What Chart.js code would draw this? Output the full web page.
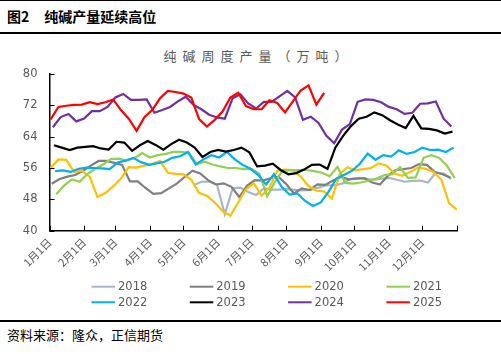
<!doctype html>
<html lang="zh">
<head>
<meta charset="utf-8">
<title>纯碱产量延续高位</title>
<script src="https://cdn.jsdelivr.net/npm/chart.js/dist/chart.umd.min.js"></script>
<style>
  * { margin: 0; padding: 0; }
  body { width: 501px; height: 354px; background: #fff; position: relative; overflow: hidden;
         font-family: "Noto Sans CJK SC", sans-serif; color: #000; }
  .rule { position: absolute; left: 0; width: 501px; background: #000; }
  .head { position: absolute; left: 7px; top: 6px; font-size: 14px; font-weight: bold; line-height: 20px; white-space: nowrap; }
  .head span { margin-right: 15px; }
  .ctitle { position: absolute; left: 0; width: 517px; top: 47px; text-align: center; font-size: 13px;
            letter-spacing: 6px; color: #595959; line-height: 18px; white-space: nowrap; }
  .src { position: absolute; left: 7px; top: 325px; font-size: 13px; line-height: 20px; white-space: nowrap; }
  .box { position: absolute; left: 0; top: 36px; width: 501px; height: 284px; }
</style>
</head>
<body>
<div class="rule" style="top:0;height:1px"></div>
<div class="head"><span>图2</span>纯碱产量延续高位</div>
<div class="rule" style="top:32px;height:2px"></div>
<div class="ctitle">纯碱周度产量（万吨）</div>
<div class="box"><canvas id="sodaChart" width="501" height="284"></canvas></div>
<div class="rule" style="top:320px;height:2px"></div>
<div class="src">资料来源：隆众，正信期货</div>

<script>
// 月份刻度
var monthDays = [0, 31, 59, 90, 120, 151, 181, 212, 243, 273, 304, 334, 365];
var monthLabels = ['1月1日', '2月1日', '3月1日', '4月1日', '5月1日', '6月1日',
                   '7月1日', '8月1日', '9月1日', '10月1日', '11月1日', '12月1日', ''];

// 各年份周度产量（万吨），firstDates 为每年第一条数据日期
var years = ['2018', '2019', '2020', '2021', '2022', '2023', '2024', '2025'];
var firstDates = ['2018-05-10', '2019-01-03', '2020-01-02', '2021-01-07',
                  '2022-01-06', '2023-01-05', '2024-01-04', '2025-01-02'];
var colors = ['#a9b5c7', '#7f7f7f', '#ffc000', '#92d050', '#00b0f0', '#000000', '#7030a0', '#ff0000'];

var v2018 = [51.6, 52.5, 52.5, 51.8, 44.2, 50.8, 51.0, 49.9, 49.1, 50.8, 50.5, 50.5, 50.6, 50.4,
             50.3, 50.4, 51.0, 51.6, 51.6, 52.0, 53.1, 53.5, 53.3, 53.0, 53.3, 53.5, 53.0, 52.5,
             52.7, 52.8, 52.3, 54.8, 54.6, 53.2];
var v2019 = [52.0, 53.2, 53.8, 54.2, 55.3, 56.6, 57.8, 57.8, 57.3, 56.8, 52.6, 52.6, 50.9, 49.4,
             49.6, 50.8, 52.0, 53.7, 55.3, 54.6, 52.9, 51.8, 52.1, 51.2, 48.6, 51.5, 52.9, 52.8,
             53.4, 53.8, 51.9, 49.5, 50.8, 50.4, 51.8, 51.7, 52.8, 53.7, 53.1, 53.3, 53.4, 52.3,
             51.8, 54.0, 55.5, 55.7, 56.0, 57.0, 56.8, 55.0, 54.4, 53.6];
var v2020 = [56.0, 58.2, 58.1, 55.0, 55.3, 53.8, 48.6, 49.6, 51.3, 53.3, 56.2, 56.1, 56.6, 57.0,
             57.8, 54.8, 54.5, 54.4, 53.0, 49.6, 48.9, 47.2, 45.0, 43.8, 47.2, 50.6, 52.1, 48.9,
             51.0, 55.3, 55.6, 55.5, 53.8, 51.4, 50.2, 50.0, 48.2, 54.5, 56.2, 55.4, 55.7, 56.0,
             57.2, 56.6, 54.6, 54.0, 55.0, 56.1, 55.8, 55.0, 53.0, 47.0, 45.4];
var v2021 = [49.3, 51.5, 53.1, 52.5, 54.5, 55.8, 56.9, 58.3, 58.4, 57.9, 58.5, 59.8, 58.7, 59.3,
             59.6, 60.1, 60.1, 59.9, 57.0, 57.6, 56.9, 56.4, 56.0, 56.0, 55.7, 55.8, 54.5, 48.8,
             52.5, 55.4, 55.4, 55.5, 55.5, 55.2, 54.8, 53.9, 56.3, 52.2, 52.0, 52.3, 52.8, 53.3,
             54.2, 54.4, 56.2, 53.5, 53.6, 58.6, 59.3, 58.6, 56.6, 53.4];
var v2022 = [55.2, 55.4, 55.0, 55.8, 56.1, 56.0, 55.9, 55.7, 57.4, 57.9, 58.6, 57.5, 56.8, 57.2,
             57.6, 58.6, 59.0, 60.1, 56.9, 58.2, 59.3, 58.7, 60.1, 58.2, 56.8, 55.8, 54.2, 51.8,
             54.4, 51.2, 49.2, 49.5, 47.6, 46.3, 47.2, 50.0, 53.3, 54.3, 55.3, 57.1, 59.7, 58.1,
             59.3, 58.9, 60.5, 59.6, 60.1, 61.2, 60.6, 60.7, 60.1, 61.2];
var v2023 = [61.8, 61.2, 60.6, 61.2, 61.4, 61.6, 61.0, 60.7, 62.7, 62.5, 60.4, 61.8, 62.9, 61.9,
             60.7, 62.1, 63.2, 62.5, 61.2, 58.8, 60.1, 60.6, 60.2, 60.6, 61.2, 60.0, 56.4, 56.6,
             57.1, 55.5, 54.4, 54.7, 55.6, 56.8, 56.9, 55.8, 61.2, 64.2, 66.7, 68.6, 69.1, 70.2,
             69.5, 68.2, 67.1, 66.2, 69.3, 66.1, 66.0, 65.6, 64.8, 65.3];
var v2024 = [66.4, 69.0, 69.8, 67.9, 68.6, 70.5, 70.5, 71.6, 74.0, 74.9, 73.4, 73.4, 73.5, 70.1,
             70.8, 71.6, 73.0, 74.2, 72.1, 71.0, 69.6, 68.9, 68.6, 73.8, 74.8, 72.5, 71.2, 72.9,
             72.9, 74.3, 75.7, 74.0, 68.3, 69.1, 67.5, 64.2, 62.3, 65.8, 67.2, 72.9, 73.5, 73.4,
             72.8, 71.6, 71.0, 69.8, 70.1, 72.4, 72.5, 73.0, 68.6, 66.6];
var v2025 = [68.4, 71.6, 71.9, 72.1, 72.2, 72.8, 72.3, 72.8, 73.5, 70.8, 68.6, 65.5, 69.0, 70.8,
             73.8, 75.7, 75.4, 75.0, 74.0, 68.5, 66.6, 68.3, 70.4, 74.0, 75.2, 71.8, 71.0, 71.0,
             73.3, 72.6, 70.2, 73.0, 75.8, 77.1, 72.2, 75.2];
var values = [v2018, v2019, v2020, v2021, v2022, v2023, v2024, v2025];

function dayOfYear(s) {
    var d = new Date(s + 'T00:00:00Z');
    return (d - Date.UTC(d.getUTCFullYear(), 0, 1)) / 864e5;
}

var datasets = years.map(function (yr, i) {
    var start = dayOfYear(firstDates[i]);
    return {
        label: yr,
        data: values[i].map(function (v, k) { return { x: start + 7 * k, y: v }; }),
        borderColor: colors[i],
        backgroundColor: colors[i],
        borderWidth: 2.2,
        pointRadius: 0,
        tension: 0,
        order: years.length - i
    };
});

// 内向刻度线 + 两行图例
var extras = {
    id: 'extras',
    afterDraw: function (chart) {
        var ctx = chart.ctx, a = chart.chartArea, x = chart.scales.x, y = chart.scales.y;
        ctx.save();
        ctx.strokeStyle = '#000';
        ctx.lineWidth = 1;
        ctx.beginPath();
        y.ticks.forEach(function (t) {
            var py = Math.round(y.getPixelForValue(t.value)) + 0.5;
            ctx.moveTo(a.left, py); ctx.lineTo(a.left + 5, py);
        });
        x.ticks.forEach(function (t) {
            var px = Math.round(x.getPixelForValue(t.value)) + 0.5;
            ctx.moveTo(px, a.bottom); ctx.lineTo(px, a.bottom - 5);
        });
        ctx.stroke();

        ctx.font = '11.5px "DejaVu Sans"';
        ctx.textBaseline = 'middle';
        ctx.fillStyle = '#595959';
        chart.data.datasets.forEach(function (ds, i) {
            var lx = 91.5 + (i % 4) * 98.3;
            var ly = 250.7 + Math.floor(i / 4) * 15.6;
            ctx.strokeStyle = ds.borderColor;
            ctx.lineWidth = 2;
            ctx.beginPath();
            ctx.moveTo(lx, ly); ctx.lineTo(lx + 23.5, ly);
            ctx.stroke();
            ctx.fillText(ds.label, lx + 26.5, ly + 0.5);
        });
        ctx.restore();
    }
};

var chart = new Chart(document.getElementById('sodaChart'), {
    type: 'line',
    data: { datasets: datasets },
    plugins: [extras],
    options: {
        responsive: false,
        animation: false,
        events: [],
        layout: { padding: { top: 38, right: 44, left: 0, bottom: 49.3 } },
        plugins: { legend: { display: false }, tooltip: { enabled: false } },
        scales: {
            x: {
                type: 'linear',
                min: 0,
                max: 365,
                afterBuildTicks: function (s) {
                    s.ticks = monthDays.map(function (d) { return { value: d }; });
                },
                afterFit: function (s) { s.height = 40; },
                border: { color: '#000', width: 1.5 },
                grid: { drawOnChartArea: false, drawTicks: false, color: '#000' },
                ticks: {
                    autoSkip: false,
                    minRotation: 45,
                    maxRotation: 45,
                    padding: 5,
                    color: '#595959',
                    font: { family: '"Noto Sans CJK SC"', size: 11 },
                    callback: function (v) { return monthLabels[monthDays.indexOf(v)] || ''; }
                }
            },
            y: {
                min: 40,
                max: 80,
                afterFit: function (s) { s.width = 49.5; },
                border: { color: '#000', width: 1.5 },
                grid: { drawOnChartArea: false, drawTicks: false, color: '#000' },
                ticks: {
                    stepSize: 4,
                    padding: 12,
                    color: '#595959',
                    font: { family: '"DejaVu Sans"', size: 11.5 }
                }
            }
        }
    }
});
</script>
</body>
</html>
